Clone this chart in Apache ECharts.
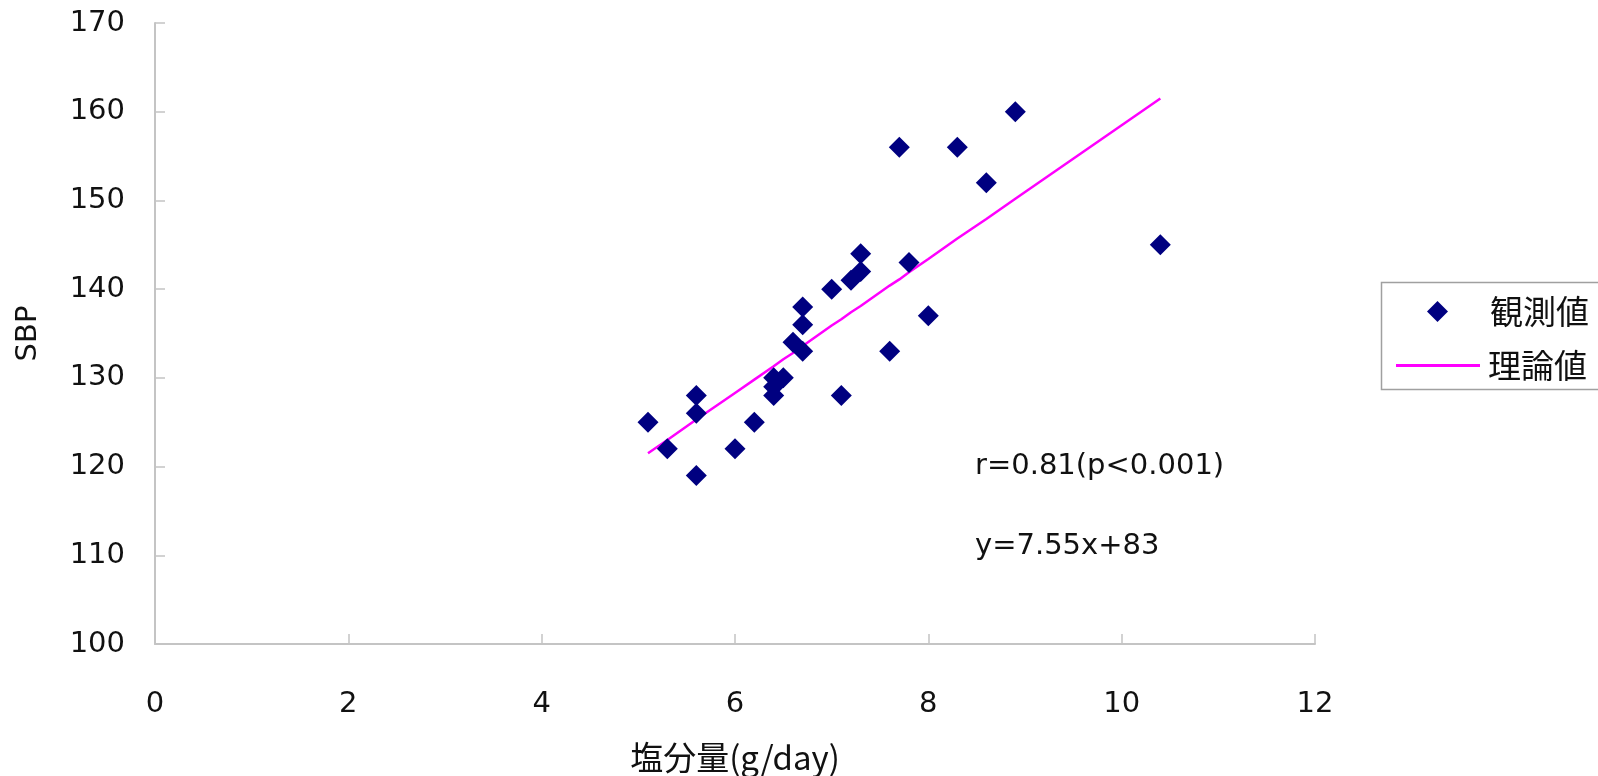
<!DOCTYPE html>
<html>
<head>
<meta charset="utf-8">
<script src="https://cdn.jsdelivr.net/npm/echarts@6/dist/echarts.min.js"></script>
<style>html,body{margin:0;padding:0;background:#fff;}#c{width:1598px;height:776px;}</style>
</head>
<body>
<div id="c"></div>
<script>
// Observed values: [salt intake g/day, SBP]
const saltX = [5.1, 5.3, 5.6, 5.6, 5.6, 6.0, 6.2, 6.4, 6.4, 6.4, 6.5, 6.6, 6.7, 6.7, 6.7, 7.0, 7.1, 7.2, 7.3, 7.3, 7.6, 7.7, 7.8, 8.0, 8.3, 8.6, 8.9, 10.4];
const sbpY  = [125, 122, 128, 126, 119, 122, 125, 130, 129, 128, 130, 134, 138, 136, 133, 140, 128, 141, 142, 144, 133, 156, 143, 137, 156, 152, 160, 145];
// Theoretical line values
const fitX = [5.1, 5.3, 5.6, 6.0, 6.2, 6.4, 6.5, 6.6, 6.7, 7.0, 7.1, 7.2, 7.3, 7.6, 7.7, 7.8, 8.0, 8.3, 8.6, 8.9, 10.4];
const fitY = [121.5, 123.0, 125.3, 128.3, 129.8, 131.3, 132.1, 132.8, 133.6, 135.9, 136.6, 137.4, 138.1, 140.4, 141.1, 141.9, 143.4, 145.7, 147.9, 150.2, 161.5];
const xTicks = [0, 2, 4, 6, 8, 10, 12];
const yTicks = [100, 110, 120, 130, 140, 150, 160, 170];
const seriesNames = ['観測値', '理論値'];
const annotations = ['r=0.81(p<0.001)', 'y=7.55x+83'];

const latin = 'DejaVu Sans';
const cjk = '"Noto Sans CJK JP", "DejaVu Sans"';
const axisCol = '#c4c4c4';

const chart = echarts.init(document.getElementById('c'));
chart.setOption({
  animation: false,
  backgroundColor: '#fff',
  grid: { left: 155, right: 283, top: 23, bottom: 132, containLabel: false, outerBoundsMode: 'none' },
  xAxis: {
    type: 'value', min: xTicks[0], max: xTicks[xTicks.length - 1], interval: 2,
    name: '塩分量(g/day)', nameLocation: 'middle', nameGap: 97,
    nameTextStyle: { fontFamily: cjk, fontSize: 33, color: '#111' },
    axisLine: { show: true, lineStyle: { color: axisCol, width: 2 } },
    axisTick: { show: true, inside: true, length: 10, lineStyle: { color: axisCol, width: 1.5 } },
    axisLabel: { fontFamily: latin, fontSize: 29, color: '#111', margin: 46 },
    splitLine: { show: false }
  },
  yAxis: {
    type: 'value', min: yTicks[0], max: yTicks[yTicks.length - 1], interval: 10,
    name: 'SBP', nameLocation: 'middle', nameGap: 112,
    nameTextStyle: { fontFamily: latin, fontSize: 29, color: '#111' },
    axisLine: { show: true, lineStyle: { color: axisCol, width: 2 } },
    axisTick: { show: true, inside: true, length: 10, lineStyle: { color: axisCol, width: 1.5 } },
    axisLabel: { fontFamily: latin, fontSize: 29, color: '#111', margin: 30, padding: [8, 0, 0, 0] },
    splitLine: { show: false }
  },
  legend: [
    {
      data: [seriesNames[0]], left: 1422, top: 290, itemWidth: 21, itemHeight: 21,
      textStyle: { fontFamily: cjk, fontSize: 33, color: '#111', padding: [0, 0, 0, 37] }
    },
    {
      data: [{ name: seriesNames[1], icon: 'rect' }], left: 1391, top: 344, itemWidth: 84, itemHeight: 3,
      textStyle: { fontFamily: cjk, fontSize: 33, color: '#111', padding: [0, 0, 0, 3] }
    }
  ],
  graphic: [
    { type: 'rect', left: 1379, top: 280, shape: { width: 320, height: 107 },
      style: { fill: 'none', stroke: '#a0a0a0', lineWidth: 1.5 }, silent: true },
    { type: 'text', left: 975, top: 452, style: { text: annotations[0], font: '29px "DejaVu Sans"', fill: '#111' } },
    { type: 'text', left: 975, top: 532, style: { text: annotations[1], font: '29px "DejaVu Sans"', fill: '#111' } }
  ],
  series: [
    {
      name: seriesNames[0], type: 'scatter', symbol: 'diamond', symbolSize: 21,
      itemStyle: { color: '#000080', opacity: 1 },
      data: saltX.map((x, i) => [x, sbpY[i]]), z: 3
    },
    {
      name: seriesNames[1], type: 'line', symbol: 'none', showSymbol: false,
      lineStyle: { color: '#ff00ff', width: 2.5 }, itemStyle: { color: '#ff00ff' },
      data: fitX.map((x, i) => [x, fitY[i]]), z: 2
    }
  ]
});
</script>
</body>
</html>
